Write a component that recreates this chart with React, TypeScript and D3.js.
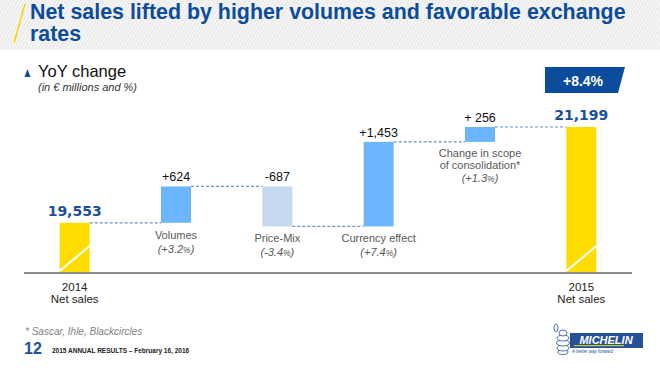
import React from 'react';
import * as d3 from 'd3';

const categories = ['2014', 'Volumes', 'Price-Mix', 'Currency effect', 'Change in scope', '2015'];
const kinds = ['total', 'delta', 'delta', 'delta', 'delta', 'total'];
const values = [19553, 624, -687, 1453, 256, 21199];
const valueLabels = ['19,553', '+624', '-687', '+1,453', '+ 256', '21,199'];
const pctLabels = ['', '+3.2', '-3.4', '+7.4', '+1.3', ''];
const totalChange = '+8.4%';

const W = 660;
const H = 368;
const BLUE = '#0b4c9c';
const ARIAL = 'Liberation Sans, Arial, sans-serif';

const x = d3.scalePoint<string>().domain(categories).range([24, 632]).padding(0.5);
const y = d3.scaleLinear().domain([18690, 21199]).range([273, 127]);
const barW = 30;

// running totals for the waterfall
const steps = (() => {
  let run = 0;
  return values.map((v, i) => {
    if (kinds[i] === 'total') {
      run = v;
      return { start: y.domain()[0], end: v };
    }
    const s = run;
    run += v;
    return { start: s, end: run };
  });
})();

const fills = ['#ffdd00', '#6db6ff', '#c6d9f1', '#6db6ff', '#6db6ff', '#ffdd00'];

const Pct = ({ v, xx, yy }: { v: string; xx: number; yy: number }) => (
  <text x={xx} y={yy} textAnchor="middle" fontFamily={ARIAL} fontStyle="italic" fontSize={11} fill="#595959">
    ({v}<tspan fontSize={8.5}>%</tspan>)
  </text>
);

const App = () => {
  return (
    <div style={{ position: 'fixed', left: 0, top: 0 }}>
      <svg width={W} height={H} viewBox={`0 0 ${W} ${H}`} style={{ display: 'block', background: '#fff' }}>
        <defs>
          <pattern id="hatch" width="3" height="3" patternUnits="userSpaceOnUse" patternTransform="rotate(30)">
            <rect width="3" height="3" fill="#f6f6f6" />
            <rect width="1" height="3" fill="#e6e6e6" />
          </pattern>
        </defs>
        <rect x={0} y={0} width={W} height={50} fill="url(#hatch)" />
        <line x1={14} y1={43} x2={25} y2={4} stroke="#ffd200" strokeWidth={1.5} />
        <text fontFamily={ARIAL} fontWeight="bold" fontSize={21.4} fill={BLUE}>
          <tspan x={30} y={19}>Net sales lifted by higher volumes and favorable exchange</tspan>
          <tspan x={30} y={41}>rates</tspan>
        </text>

        <path d="M24.5,77 L27.5,69 L30.5,77 Z" fill={BLUE} />
        <text x={38} y={77} fontFamily={ARIAL} fontSize={16.5} fill="#111">YoY change</text>
        <text x={38} y={91} fontFamily={ARIAL} fontSize={11} fontStyle="italic" fill="#333">(in € millions and %)</text>

        <path d="M545,67 L625,67 L618,93 L545,93 Z" fill={BLUE} />
        <text x={583} y={86} textAnchor="middle" fontFamily={ARIAL} fontWeight="bold" fontSize={14} fill="#fff">
          {totalChange}
        </text>

        {/* connectors */}
        {steps.slice(0, -1).map((s, i) => (
          <line
            key={`c${i}`}
            x1={(x(categories[i]) as number) + barW / 2}
            x2={(x(categories[i + 1]) as number) - barW / 2}
            y1={y(s.end)}
            y2={y(s.end)}
            stroke="#6a92c8"
            strokeWidth={1.2}
            strokeDasharray="3 2"
          />
        ))}

        {/* bars */}
        {steps.map((s, i) => {
          const cx = x(categories[i]) as number;
          const top = y(Math.max(s.start, s.end));
          const bot = y(Math.min(s.start, s.end));
          return (
            <g key={`b${i}`}>
              <rect x={cx - barW / 2} y={top} width={barW} height={bot - top} fill={fills[i]} />
              {kinds[i] === 'total' && (
                <line x1={cx - barW / 2} y1={271} x2={cx + barW / 2} y2={246} stroke="#fff" strokeWidth={2} />
              )}
            </g>
          );
        })}

        <line x1={24} x2={632} y1={273} y2={273} stroke="#8c8c8c" strokeWidth={2} />

        {/* value labels */}
        {steps.map((s, i) => {
          const cx = x(categories[i]) as number;
          const top = y(Math.max(s.start, s.end));
          return kinds[i] === 'total' ? (
            <text key={`v${i}`} x={cx} y={top - 7} textAnchor="middle" fontFamily="DejaVu Sans, Verdana, sans-serif" fontWeight="bold" fontSize={14} fill="#1a4f9c">
              {valueLabels[i]}
            </text>
          ) : (
            <text key={`v${i}`} x={cx} y={top - 5} textAnchor="middle" fontFamily={ARIAL} fontSize={12.5} fill="#111">
              {valueLabels[i]}
            </text>
          );
        })}

        {/* category labels */}
        {steps.map((s, i) => {
          const cx = x(categories[i]) as number;
          const bot = y(Math.min(s.start, s.end));
          if (kinds[i] === 'total') {
            return (
              <text key={`l${i}`} fontFamily={ARIAL} fontSize={11.5} fill="#222" textAnchor="middle">
                <tspan x={cx} y={291}>{categories[i]}</tspan>
                <tspan x={cx} y={303}>Net sales</tspan>
              </text>
            );
          }
          if (i === 4) {
            return (
              <g key={`l${i}`}>
                <text fontFamily={ARIAL} fontSize={11} fill="#595959" textAnchor="middle">
                  <tspan x={cx} y={bot + 15}>{categories[i]}</tspan>
                  <tspan x={cx} y={bot + 27}>of consolidation*</tspan>
                </text>
                <Pct v={pctLabels[i]} xx={cx} yy={bot + 40} />
              </g>
            );
          }
          return (
            <g key={`l${i}`}>
              <text x={cx} y={bot + 16} textAnchor="middle" fontFamily={ARIAL} fontSize={11} fill="#595959">
                {categories[i]}
              </text>
              <Pct v={pctLabels[i]} xx={cx} yy={bot + 30} />
            </g>
          );
        })}

        {/* footer */}
        <text x={25} y={335} fontFamily={ARIAL} fontStyle="italic" fontSize={10} fill="#7f7f7f">* Sascar, Ihle, Blackcircles</text>
        <text x={24} y={354} fontFamily={ARIAL} fontWeight="bold" fontSize={16} fill="#1f4e9c">12</text>
        <text x={52} y={353} fontFamily={ARIAL} fontWeight="bold" fontSize={6.5} fill="#222">
          2015 ANNUAL RESULTS – February 16,  2016
        </text>

        {/* logo */}
        <g>
          <rect x={570} y={333} width={73} height={15} fill="#27509b" />
          <rect x={574} y={345} width={50} height={1.2} fill="#c8d400" />
          <text x={606} y={344} textAnchor="middle" fontFamily={ARIAL} fontWeight="bold" fontStyle="italic" fontSize={11} fill="#fff">
            MICHELIN
          </text>
          <text x={572} y={353} fontFamily={ARIAL} fontStyle="italic" fontSize={4.5} fill="#27509b">
            A better way forward
          </text>
          <g fill="#fff" stroke="#27509b" strokeWidth={0.8}>
            <ellipse cx={563} cy={352} rx={5} ry={2.5} />
            <ellipse cx={563} cy={348} rx={6} ry={3} />
            <ellipse cx={563} cy={343} rx={6.5} ry={3} />
            <ellipse cx={563} cy={338} rx={6} ry={3} />
            <ellipse cx={563} cy={333} rx={4} ry={3} />
            <ellipse cx={556} cy={328} rx={2} ry={4} />
          </g>
        </g>
      </svg>
    </div>
  );
};

export default App;
